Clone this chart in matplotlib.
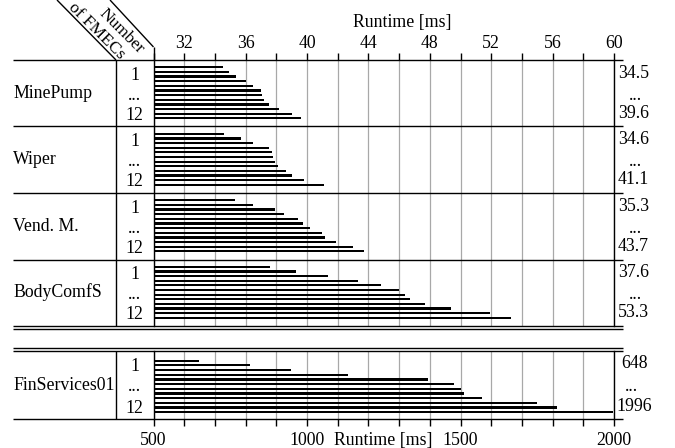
import matplotlib
matplotlib.use("Agg")
import matplotlib.pyplot as plt
from matplotlib.lines import Line2D
import numpy as np

plt.rcParams['font.family'] = ['Liberation Serif', 'DejaVu Serif']
plt.rcParams['font.size'] = 12.8

# ---- data ----
groups = ["MinePump", "Wiper", "Vend. M.", "BodyComfS"]
minepump = [34.5, 34.9, 35.4, 36.0, 36.5, 37.0, 37.05, 37.2, 37.5, 38.2, 39.0, 39.6]
wiper = [34.6, 35.7, 36.5, 37.5, 37.7, 37.8, 37.9, 38.1, 38.6, 39.0, 39.8, 41.1]
vendm = [35.3, 36.5, 37.9, 38.5, 39.4, 39.75, 40.2, 41.0, 41.2, 41.9, 43.0, 43.7]
bodycomfs = [37.6, 39.3, 41.4, 43.3, 44.8, 46.0, 46.4, 46.7, 47.7, 49.4, 51.9, 53.3]
finservices = [648, 814, 949, 1132, 1393, 1479, 1502, 1510, 1571, 1749, 1814, 1996]
fin_name = "FinServices01"
top_ticks = [32, 36, 40, 44, 48, 52, 56, 60]
bottom_ticks = [500, 1000, 1500, 2000]
series = [minepump, wiper, vendm, bodycomfs]

W, H = 675, 448
fig = plt.figure(figsize=(W / 100, H / 100), dpi=100)


def fx(x):
    return x / W


def fy(y):
    return 1 - y / H


def hline(y, x0=13, x1=623, lw=1.0):
    fig.add_artist(Line2D([fx(x0), fx(x1)], [fy(y), fy(y)], color='black', lw=lw,
                          transform=fig.transFigure, solid_capstyle='butt'))


def seg(x0, y0, x1, y1, lw=1.0):
    fig.add_artist(Line2D([fx(x0), fx(x1)], [fy(y0), fy(y1)], color='black', lw=lw,
                          transform=fig.transFigure, solid_capstyle='butt'))


AX_L, AX_R = 153.5, 614.0
TOP1, BOT1 = 60.0, 326.0
TOP2, BOT2 = 350.7, 419.3

ax1 = fig.add_axes([fx(AX_L), fy(BOT1), (AX_R - AX_L) / W, (BOT1 - TOP1) / H])
ax2 = fig.add_axes([fx(AX_L), fy(BOT2), (AX_R - AX_L) / W, (BOT2 - TOP2) / H])

grp_px = (BOT1 - TOP1) / len(groups)
bar_h = 0.034
for g, vals in enumerate(series):
    ys = [g + (7.3 + i * 4.64) / grp_px for i in range(len(vals))]
    ax1.barh(ys, np.array(vals) - 30, left=30, height=bar_h, color='black', zorder=3)
ax1.set_xlim(30, 60)
ax1.set_ylim(len(groups), 0)
ax1.set_yticks([])
ax1.xaxis.tick_top()
ax1.set_xticks(np.arange(30, 61, 2))
ax1.set_xticklabels([str(t) if t in top_ticks else "" for t in range(30, 61, 2)])
ax1.tick_params(axis='x', direction='out', length=5, width=1, pad=0.5, labelsize=12.8)
ax1.grid(axis='x', color='#a8a8a8', lw=0.9)
ax1.set_axisbelow(True)
for s in ['top', 'bottom']:
    ax1.spines[s].set_visible(False)
for s in ['left', 'right']:
    ax1.spines[s].set_linewidth(1.0)

p2 = BOT2 - TOP2
ys2 = [(10 + i * 4.69) / p2 for i in range(len(finservices))]
ax2.barh(ys2, np.array(finservices) - 500, left=500, height=2.2 / p2, color='black', zorder=3)
ax2.set_xlim(500, 2000)
ax2.set_ylim(1, 0)
ax2.set_yticks([])
ax2.set_xticks(np.arange(500, 2001, 100))
ax2.set_xticklabels([str(t) if t in bottom_ticks else "" for t in range(500, 2001, 100)])
ax2.tick_params(axis='x', direction='out', length=5, width=1, pad=4, labelsize=12.8)
ax2.grid(axis='x', color='#a8a8a8', lw=0.9)
ax2.set_axisbelow(True)
for s in ['top', 'bottom']:
    ax2.spines[s].set_visible(False)
for s in ['left', 'right']:
    ax2.spines[s].set_linewidth(1.0)

# ---- table frame ----
hline(TOP1)
for g in range(1, len(groups)):
    hline(TOP1 + g * grp_px)
hline(BOT1)
hline(BOT1 + 3)
hline(TOP2 - 3)
hline(TOP2)
hline(BOT2)
seg(116, TOP1, 116, BOT1)
seg(116, TOP2, 116, BOT2)
# header diagonals
seg(57, 0, 116, TOP1)
seg(110, 0, 153.5, 47)
seg(153.5, 47, 153.5, TOP1)
fig.text(fx(121), fy(31), "Number", rotation=-45, ha='center', va='center',
         rotation_mode='anchor', fontsize=12.5)
fig.text(fx(97), fy(31), "of FMECs", rotation=-45, ha='center', va='center',
         rotation_mode='anchor', fontsize=12.5)

# group labels
for g, (name, vals) in enumerate(zip(groups, series)):
    top = TOP1 + g * grp_px
    fig.text(fx(13), fy(top + 33), name, ha='left', va='center')
    fig.text(fx(134.5), fy(top + 15), "1", ha='center', va='center')
    fig.text(fx(134.5), fy(top + 35), "...", ha='center', va='center')
    fig.text(fx(134.5), fy(top + 55), "12", ha='center', va='center')
    fig.text(fx(618), fy(top + 13), f"{vals[0]:.1f}", ha='left', va='center')
    fig.text(fx(635), fy(top + 35), "...", ha='center', va='center')
    fig.text(fx(618), fy(top + 53), f"{vals[-1]:.1f}", ha='left', va='center')

fig.text(fx(13), fy(385), fin_name, ha='left', va='center')
fig.text(fx(134.5), fy(366.5), "1", ha='center', va='center')
fig.text(fx(134.5), fy(386), "...", ha='center', va='center')
fig.text(fx(134.5), fy(408), "12", ha='center', va='center')
fig.text(fx(621), fy(363), str(finservices[0]), ha='left', va='center')
fig.text(fx(631), fy(386), "...", ha='center', va='center')
fig.text(fx(616), fy(406), str(finservices[-1]), ha='left', va='center')

fig.text(fx(402), fy(23), "Runtime [ms]", ha='center', va='center')
fig.text(fx(383), fy(440), "Runtime [ms]", ha='center', va='center')

fig.savefig("out.png", dpi=100)
